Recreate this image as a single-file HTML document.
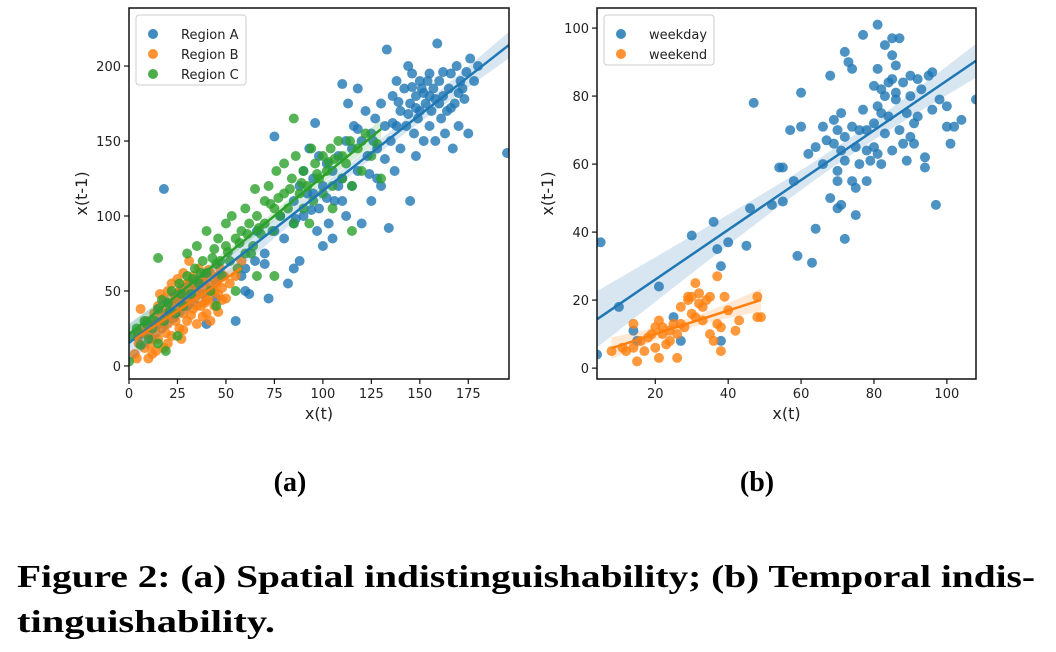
<!DOCTYPE html>
<html><head><meta charset="utf-8"><style>
body{margin:0;background:#fff;}
svg{display:block;font-family:"DejaVu Sans","Liberation Sans",sans-serif;}
</style></head><body>
<svg id="fig" width="1056" height="652" viewBox="0 0 1056 652" xmlns="http://www.w3.org/2000/svg">
<rect width="1056" height="652" fill="#fff"/>
<g id="pa"></g>
<g id="pb"></g>
<text x="290" y="491" text-anchor="middle" font-family="Liberation Serif,serif" font-weight="bold" font-size="28">(a)</text>
<text x="757" y="491" text-anchor="middle" font-family="Liberation Serif,serif" font-weight="bold" font-size="28">(b)</text>
<text x="17" y="587" font-family="Liberation Serif,serif" font-weight="bold" font-size="32" textLength="1018" lengthAdjust="spacingAndGlyphs">Figure 2: (a) Spatial indistinguishability; (b) Temporal indis-</text>
<text x="17" y="632" font-family="Liberation Serif,serif" font-weight="bold" font-size="32" textLength="258" lengthAdjust="spacingAndGlyphs">tinguishability.</text>
</svg>
<script>
const regionA=[[18,118],[5,20],[10,25],[15,28],[20,35],[30,40],[40,28],[45,45],[55,30],[58,60],[60,65],[62,48],[65,70],[70,75],[72,45],[75,153],[75,90],[78,100],[80,85],[82,55],[85,110],[85,65],[88,120],[88,70],[90,100],[90,130],[92,115],[93,145],[95,125],[96,162],[97,90],[98,105],[100,120],[100,80],[102,135],[103,95],[105,130],[106,110],[108,140],[110,125],[110,188],[112,150],[112,100],[113,175],[115,145],[116,160],[118,130],[118,185],[120,150],[120,95],[122,170],[123,140],[125,155],[125,110],[127,165],[128,145],[130,175],[130,120],[132,160],[133,211],[134,92],[135,150],[136,180],[137,130],[138,190],[140,170],[140,145],[142,185],[143,160],[144,200],[145,110],[145,175],[146,195],[147,155],[148,180],[149,165],[150,190],[150,170],[151,185],[152,150],[153,175],[154,190],[155,180],[155,160],[156,170],[157,185],[158,150],[159,215],[160,175],[160,190],[161,165],[162,180],[163,155],[164,170],[165,185],[166,195],[167,145],[168,175],[169,200],[170,160],[171,190],[172,185],[173,178],[175,155],[176,205],[178,190],[180,200],[195,142],[98,140],[108,120],[128,125],[138,160],[148,140],[115,120],[105,85],[95,115],[85,95],[70,68],[66,90],[60,50],[152,182],[158,178],[162,196],[166,172],[170,182],[144,168],[139,176],[126,150],[132,138],[118,158],[124,128],[110,110],[102,112],[94,104],[86,98],[136,162],[146,186],[174,196],[155,195],[148,172]];
const regionB=[[3,8],[5,15],[6,38],[7,25],[8,12],[9,30],[10,20],[11,28],[12,8],[13,35],[14,22],[15,18],[15,40],[16,30],[17,25],[18,45],[18,12],[19,35],[20,28],[20,50],[21,40],[22,20],[22,55],[23,32],[24,45],[25,38],[25,58],[26,25],[26,50],[27,42],[28,35],[28,62],[29,48],[30,30],[30,55],[31,42],[31,70],[32,50],[33,38],[33,60],[34,45],[35,52],[35,28],[36,65],[37,40],[37,55],[38,48],[39,60],[40,35],[40,52],[41,45],[42,62],[43,50],[44,40],[44,58],[45,55],[46,48],[47,65],[48,52],[49,60],[50,45],[52,55],[55,60],[58,70],[24,30],[20,15],[16,48],[12,18],[10,5],[27,18],[30,45],[35,40],[38,33],[42,30],[46,36],[4,5],[8,22],[11,14],[14,30],[17,36],[19,22],[21,32],[23,48],[25,44],[27,52],[29,40],[31,56],[33,46],[34,54],[36,48],[38,58],[40,44],[42,54],[44,50],[46,60],[48,44],[26,36],[22,42],[18,28],[14,10],[32,34],[39,42],[41,64],[28,24]];
const regionC=[[0,3],[2,20],[4,25],[6,14],[8,30],[10,18],[12,25],[15,72],[15,38],[18,30],[19,10],[20,42],[22,50],[24,35],[26,55],[28,40],[30,60],[30,75],[32,48],[34,65],[35,80],[36,55],[38,70],[40,62],[40,90],[42,50],[44,78],[45,68],[46,85],[48,60],[50,80],[50,95],[52,70],[53,100],[55,85],[56,65],[58,90],[60,105],[60,75],[62,95],[64,80],[65,118],[66,100],[68,88],[70,110],[70,95],[72,120],[74,90],[75,105],[76,130],[78,100],[80,115],[80,135],[82,105],[84,125],[85,95],[86,140],[88,115],[90,130],[90,105],[92,120],[94,145],[95,110],[96,135],[98,125],[100,140],[100,115],[102,130],[104,145],[105,120],[106,138],[108,150],[110,125],[110,140],[112,135],[114,150],[115,120],[118,145],[120,130],[122,155],[125,140],[128,148],[130,125],[85,165],[105,105],[115,90],[75,60],[66,60],[55,50],[45,40],[25,20],[15,15],[63,75],[93,95],[5,22],[9,28],[13,30],[17,44],[21,36],[27,48],[33,58],[37,62],[43,72],[47,70],[51,76],[57,82],[61,88],[67,92],[73,108],[77,112],[83,118],[89,122],[97,128],[103,136]];
const weekday=[[4,4],[5,37],[10,18],[14,11],[15,8],[21,24],[25,15],[27,8],[30,39],[36,43],[37,35],[38,30],[38,8],[40,37],[45,36],[46,47],[47,78],[52,48],[54,59],[55,49],[55,59],[57,70],[59,33],[60,81],[60,71],[63,31],[64,41],[64,65],[66,60],[66,71],[68,86],[68,50],[69,66],[69,73],[70,55],[70,70],[70,47],[70,58],[71,64],[71,75],[71,48],[72,93],[72,61],[72,68],[72,38],[73,90],[74,88],[74,71],[74,55],[75,65],[75,45],[75,53],[76,70],[76,60],[77,98],[77,76],[78,64],[78,70],[79,61],[80,83],[80,72],[80,65],[81,101],[81,88],[81,77],[81,63],[82,82],[82,75],[82,60],[83,95],[83,80],[83,69],[84,74],[85,97],[85,85],[85,64],[86,89],[86,79],[87,97],[87,70],[88,84],[89,75],[89,61],[90,86],[90,68],[90,80],[91,72],[92,85],[92,74],[93,82],[94,62],[94,59],[95,86],[96,87],[96,76],[97,48],[98,79],[100,71],[100,77],[101,66],[102,71],[104,73],[108,79],[62,63],[67,67],[84,84],[78,55],[88,66],[58,55],[85,92],[91,66],[86,81]];
const weekend=[[8,5],[11,6],[12,5],[14,13],[14,6],[15,2],[16,8],[17,5],[18,9],[19,10],[20,12],[20,6],[21,14],[21,3],[22,10],[22,12],[23,7],[24,11],[24,8],[25,13],[26,3],[26,10],[27,18],[28,12],[29,20],[29,21],[30,16],[30,21],[31,15],[32,22],[32,19],[33,14],[33,18],[34,20],[35,10],[35,21],[36,8],[37,27],[37,13],[38,5],[38,12],[39,21],[40,17],[43,14],[48,21],[48,15],[49,15],[42,11],[31,25],[27,13]];
const xTicksA=[0,25,50,75,100,125,150,175];
const yTicksA=[0,50,100,150,200];
const xTicksB=[20,40,60,80,100];
const yTicksB=[0,20,40,60,80,100];
const legendA=["Region A","Region B","Region C"];
const legendB=["weekday","weekend"];

const NS="http://www.w3.org/2000/svg";
function mk(parent,tag,attrs){const e=document.createElementNS(NS,tag);for(const k in attrs)e.setAttribute(k,attrs[k]);parent.appendChild(e);return e;}

function panel(g,cfg){
  const {L,R,T,B,xmin,xmax,ymin,ymax}=cfg;
  const sx=v=>L+(v-xmin)/(xmax-xmin)*(R-L);
  const sy=v=>B-(v-ymin)/(ymax-ymin)*(B-T);
  const clipId=cfg.id+"clip";
  const defs=mk(g,"defs",{});const cp=mk(defs,"clipPath",{id:clipId});mk(cp,"rect",{x:L,y:T,width:R-L,height:B-T});
  const plot=mk(g,"g",{"clip-path":"url(#"+clipId+")"});
  
  
  cfg.series.forEach((s,si)=>{
    const sg=mk(plot,"g",{});
    
    
    s.data.forEach(p=>{
      const c=mk(sg,"circle",{cx:sx(p[0]),cy:sy(p[1]),r:5,fill:s.color,"fill-opacity":0.8});
      
      
    });
  });
  cfg.series.forEach(s=>{
    const d=s.data,n=d.length;let mx=0,my=0;d.forEach(p=>{mx+=p[0];my+=p[1];});mx/=n;my/=n;
    let sxx=0,sxy=0;d.forEach(p=>{sxx+=(p[0]-mx)**2;sxy+=(p[0]-mx)*(p[1]-my);});
    const b=sxy/sxx,a=my-b*mx;let ss=0;d.forEach(p=>{ss+=(p[1]-a-b*p[0])**2;});const se=Math.sqrt(ss/(n-2));
    let x0=Math.min(...d.map(p=>p[0])),x1=Math.max(...d.map(p=>p[0]));
    if(s.full){x0=xmin;x1=xmax;}
    const up=[],lo=[];
    for(let i=0;i<=40;i++){const x=x0+(x1-x0)*i/40;const w=1.96*se*Math.sqrt(1/n+(x-mx)**2/sxx);up.push(sx(x)+","+sy(a+b*x+w));lo.unshift(sx(x)+","+sy(a+b*x-w));}
    const band=mk(plot,"polygon",{points:up.concat(lo).join(" "),fill:s.color,"fill-opacity":0.18});
    
    
    const ln=mk(plot,"line",{x1:sx(x0),y1:sy(a+b*x0),x2:sx(x1),y2:sy(a+b*x1),stroke:s.color,"stroke-width":2.5});
    
    
  });
  const fr=mk(g,"rect",{x:L,y:T,width:R-L,height:B-T,fill:"none",stroke:"#111","stroke-width":1.5});
  
  
  cfg.xt.forEach(t=>{const x=sx(t);mk(g,"line",{x1:x,y1:B,x2:x,y2:B+5,stroke:"#111","stroke-width":1.2});
    const tx=mk(g,"text",{x:x,y:B+19,"text-anchor":"middle","font-size":13,fill:"#222"});tx.textContent=t;
    
    });
  cfg.yt.forEach(t=>{const y=sy(t);mk(g,"line",{x1:L-5,y1:y,x2:L,y2:y,stroke:"#111","stroke-width":1.2});
    const tx=mk(g,"text",{x:L-8,y:y+5,"text-anchor":"end","font-size":13,fill:"#222"});tx.textContent=t;
    
    });
  const xl=mk(g,"text",{x:(L+R)/2,y:B+40,"text-anchor":"middle","font-size":16,fill:"#222"});xl.textContent="x(t)";
  
  
  const yl=mk(g,"text",{x:cfg.ylx,y:(T+B)/2,"text-anchor":"middle","font-size":16,fill:"#222",transform:"rotate(-90 "+cfg.ylx+" "+((T+B)/2)+")"});yl.textContent="x(t-1)";
  
  
  const lg=mk(g,"g",{});
  
  
  mk(lg,"rect",{x:L+7,y:T+7,width:cfg.lw,height:cfg.labels.length*20+10,rx:3,fill:"#fff","fill-opacity":0.85,stroke:"#ccc"});
  cfg.labels.forEach((lab,i)=>{
    const y=T+27+i*20;
    mk(lg,"circle",{cx:L+24,cy:y-1,r:5,fill:cfg.series[i].color,"fill-opacity":0.85});
    const t=mk(lg,"text",{x:L+52,y:y+4,"font-size":13,fill:"#222"});t.textContent=lab;
    
    
  });
}
panel(document.getElementById("pa"),{id:"a",L:129,R:509,T:8,B:379,xmin:0,xmax:196,ymin:-8.7,ymax:238.7,
  xt:xTicksA,yt:yTicksA,ylx:87,lw:110,labels:legendA,
  series:[{name:"Region A",data:regionA,color:"#1f77b4",full:true},{name:"Region B",data:regionB,color:"#ff7f0e"},{name:"Region C",data:regionC,color:"#2ca02c"}]});
panel(document.getElementById("pb"),{id:"b",L:597,R:976,T:8,B:379,xmin:4,xmax:108,ymin:-3.2,ymax:105.9,
  xt:xTicksB,yt:yTicksB,ylx:553,lw:110,labels:legendB,
  series:[{name:"weekday",data:weekday,color:"#1f77b4",full:true},{name:"weekend",data:weekend,color:"#ff7f0e"}]});
</script>
</body></html>
